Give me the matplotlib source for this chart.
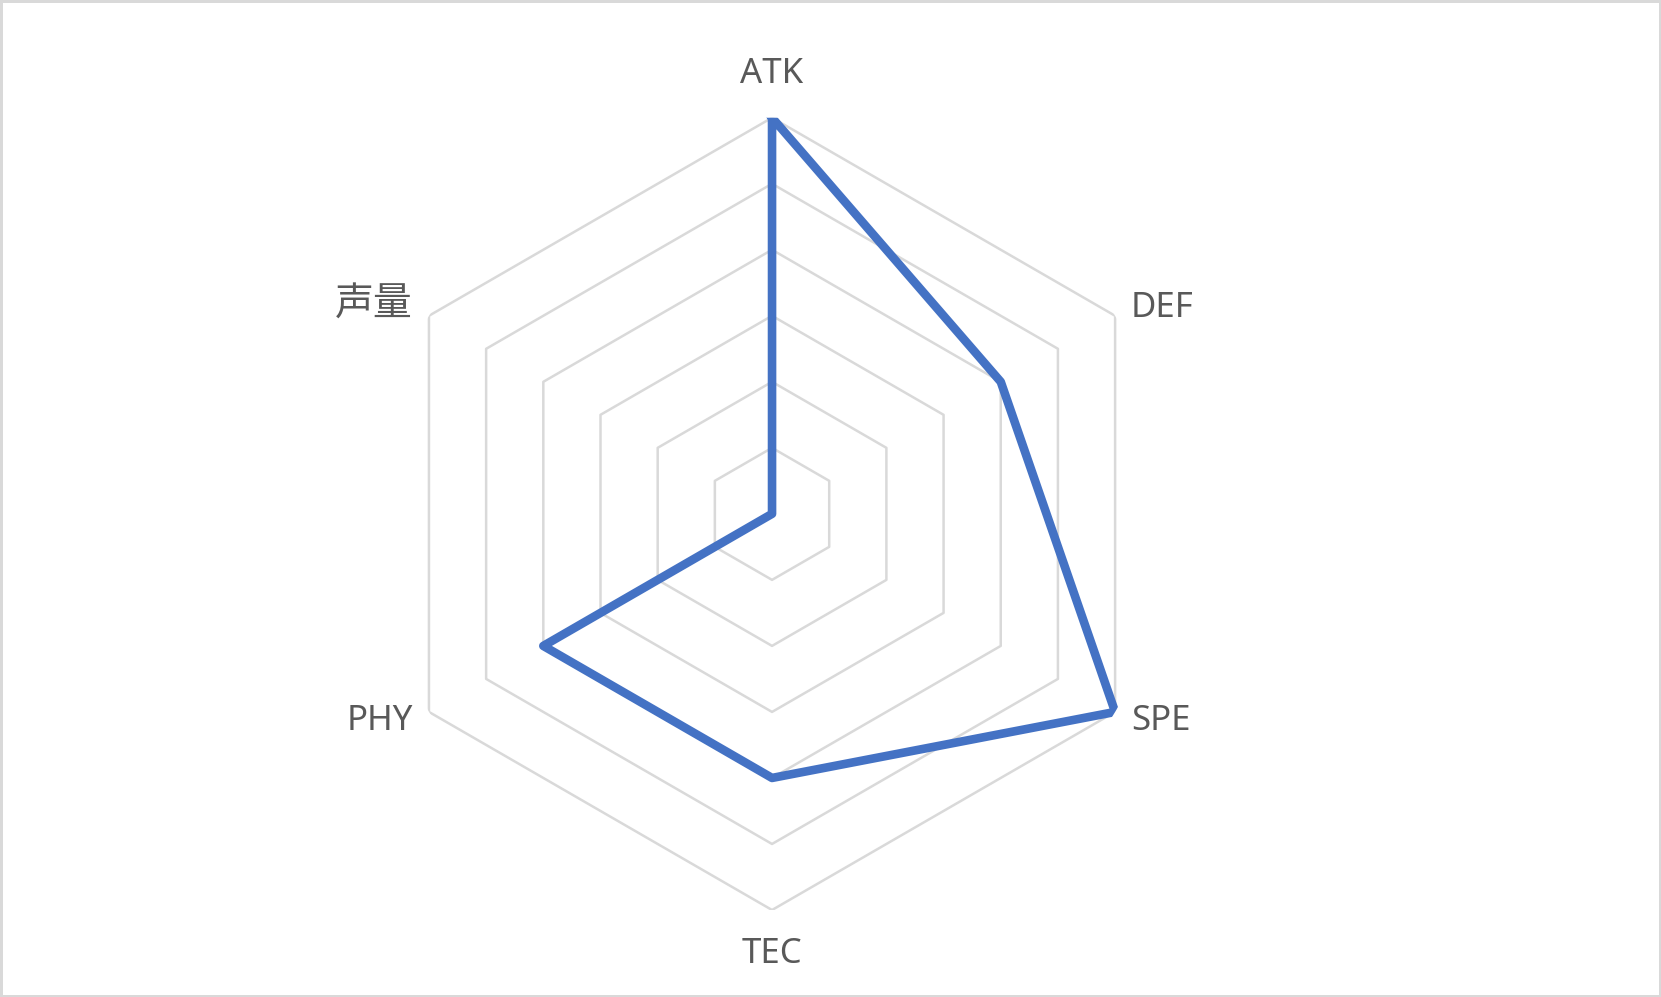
import numpy as np
import matplotlib.pyplot as plt

# dados do radar
categorias = ['ATK', 'DEF', 'SPE', 'TEC', 'PHY', '声量']
valores = [6, 4, 6, 4, 4, 0]
niveis = [1, 2, 3, 4, 5, 6]

plt.rcParams['font.family'] = ['Noto Sans', 'Noto Sans CJK SC', 'DejaVu Sans']

cinza = '#d9d9d9'
azul = '#4472c4'
texto = '#595959'

fig = plt.figure(figsize=(16.61, 9.97), dpi=100, edgecolor=cinza, linewidth=2.5)
ax = fig.add_axes([0.2263, 0.0871, 0.477, 0.795], projection='polar')
ax.set_theta_zero_location('N')
ax.set_theta_direction(-1)

n = len(categorias)
angulos = np.linspace(0, 2 * np.pi, n, endpoint=False)
ang_fechado = np.append(angulos, angulos[0])

# grade hexagonal
for nivel in niveis:
    ax.plot(ang_fechado, [nivel] * (n + 1), color=cinza, linewidth=1.8, zorder=1)

v = valores + valores[:1]
ax.plot(ang_fechado, v, color=azul, linewidth=6.2, solid_joinstyle='round', zorder=3)

# rotulos ao lado de cada vertice (deslocamento em pixels)
deslocs = [(0, 44, 'center'), (16, 8, 'left'), (16, -9, 'left'),
           (0, -44, 'center'), (-16, -9, 'right'), (-16, 10, 'right')]
for ang, cat, (dx, dy, ha) in zip(angulos, categorias, deslocs):
    tam = 28 if cat == '声量' else 25
    ax.annotate(cat, xy=(ang, niveis[-1]), xytext=(dx * 0.72, dy * 0.72),
                textcoords='offset points', ha=ha, va='center',
                fontsize=tam, color=texto, annotation_clip=False)

ax.set_ylim(0, 6)
ax.grid(False)
ax.set_xticks([])
ax.set_yticks([])
ax.spines['polar'].set_visible(False)
ax.patch.set_alpha(0)

fig.savefig('out.png', dpi=100, edgecolor=fig.get_edgecolor())
